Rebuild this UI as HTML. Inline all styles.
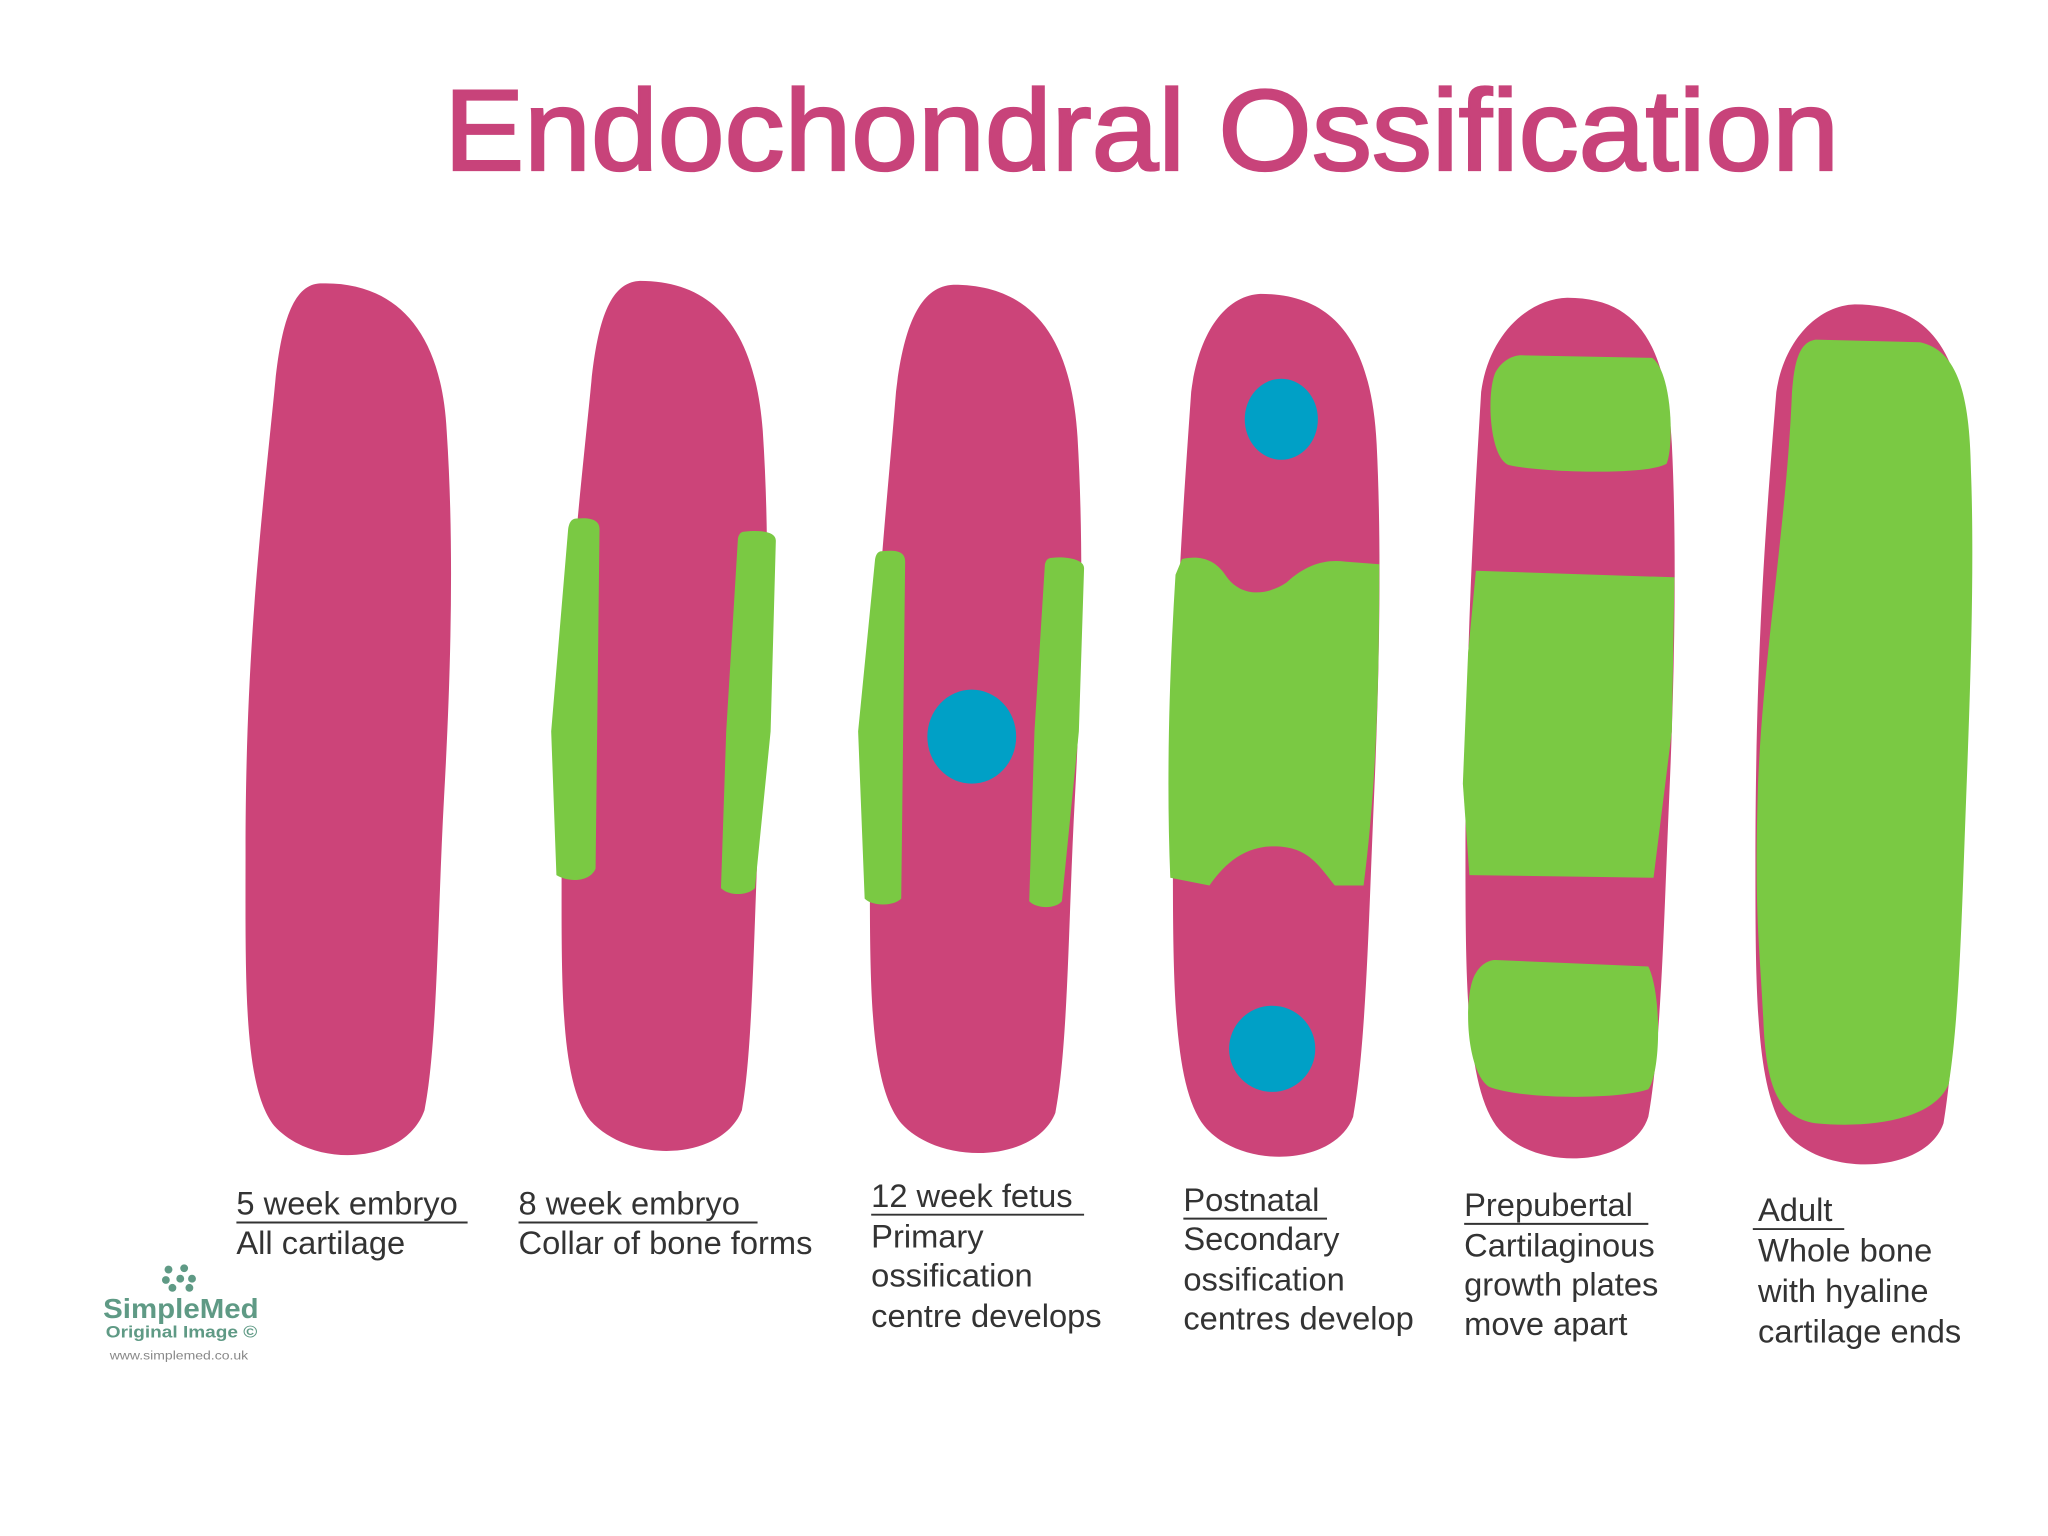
<!DOCTYPE html>
<html><head><meta charset="utf-8"><style>
html,body{margin:0;padding:0;background:#fff;}
svg{display:block;}
text{font-family:"Liberation Sans",sans-serif;}
</style></head><body>
<svg width="2048" height="1536" viewBox="0 0 1568 1176" xmlns="http://www.w3.org/2000/svg">
<rect width="1568" height="1176" fill="#fff"/>
<text x="340" y="130" font-size="88" fill="#c8437a" stroke="#c8437a" stroke-width="1.8" textLength="1068" lengthAdjust="spacingAndGlyphs">Endochondral Ossification</text>

<g fill="#cc4479">
<path d="M245 217 C300 215 338 250 342 330 C348 420 345 520 340 610 C335 700 335 800 325 850 C310 892 240 895 210 862 C186 832 188 750 188 650 C188 500 200 400 210 300 C215 245 225 218 245 217 Z"/>
<path d="M490 215 C545 215 578 250 584 330 C590 420 587 520 582 610 C577 700 577 800 568 850 C553 888 483 892 452 858 C428 828 430 750 430 650 C430 500 442 400 452 300 C457 245 467 216 490 215 Z"/>
<path d="M730 218 C788 218 820 255 825 335 C830 420 828 520 823 610 C818 700 818 800 808 852 C793 890 720 893 690 860 C665 830 666 750 666 650 C666 500 678 400 686 300 C692 248 705 219 730 218 Z"/>
<path d="M965 225 C1020 225 1050 260 1054 340 C1058 420 1056 520 1052 610 C1048 700 1046 800 1036 855 C1022 893 950 896 922 862 C898 832 898 750 898 650 C898 500 905 400 912 300 C918 252 940 226 965 225 Z"/>
<path d="M1200 228 C1255 228 1276 265 1280 340 C1284 420 1282 520 1278 610 C1274 700 1272 800 1262 855 C1250 893 1178 898 1148 865 C1122 835 1122 750 1122 650 C1122 500 1128 400 1134 300 C1140 256 1170 229 1200 228 Z"/>
<path d="M1420 233 C1478 233 1502 270 1506 345 C1510 420 1508 520 1504 610 C1500 700 1498 800 1488 860 C1475 898 1400 902 1370 870 C1344 840 1344 760 1344 660 C1344 500 1352 400 1360 300 C1366 260 1392 234 1420 233 Z"/>
</g>

<g fill="#7ac943">
<path d="M442 397 C452 396 459 398 459 405 L456 665 C452 675 436 676 426 670 L422 560 L435 405 C436 399 438 397 442 397 Z"/>
<path d="M570 407 C580 406 594 406 594 414 L590 560 L578 680 C572 686 558 686 552 680 L556 560 L565 412 C566 408 568 407 570 407 Z"/>
<path d="M676 422 C686 421 693 422 693 430 L690 688 C684 694 668 694 662 688 L657 560 L670 428 C671 423 673 422 676 422 Z"/>
<path d="M806 427 C816 426 830 428 830 435 L826 560 L813 690 C808 696 794 696 788 690 L792 560 L800 432 C801 428 803 427 806 427 Z"/>
<path d="M905 428 C918 425 930 428 938 440 C950 458 970 456 985 446 C1000 432 1015 428 1030 430 L1056 432 C1056 520 1054 600 1044 678 L1022 678 C1008 660 1000 648 975 648 C950 648 935 665 926 678 L896 672 C893 600 895 520 900 440 Z"/>
<path d="M1165 272 L1265 274 C1280 285 1282 340 1276 355 C1262 364 1180 362 1155 356 C1140 350 1138 300 1145 285 C1150 276 1158 272 1165 272 Z"/>
<path d="M1130 437 L1282 442 L1280 560 L1266 672 L1125 670 L1120 600 L1124 500 Z"/>
<path d="M1145 735 L1262 740 C1272 760 1272 820 1262 834 C1240 842 1165 842 1140 832 C1122 820 1120 760 1130 745 C1134 738 1140 735 1145 735 Z"/>
<path d="M1390 260 L1470 262 C1498 268 1508 300 1509 360 C1512 440 1508 540 1505 620 C1502 700 1500 780 1492 830 C1480 858 1430 864 1390 860 C1360 855 1352 830 1350 780 C1347 720 1343 700 1346 600 C1350 500 1368 400 1372 300 C1374 275 1378 262 1390 260 Z"/>
</g>

<g fill="#00a0c6">
<ellipse cx="744" cy="564" rx="34" ry="36"/>
<ellipse cx="981" cy="321" rx="28" ry="31"/>
<ellipse cx="974" cy="803" rx="33" ry="33"/>
</g>

<g font-size="25" fill="#333">
<text x="181" y="930">5 week embryo</text>
<line x1="181" y1="936" x2="358" y2="936" stroke="#333" stroke-width="1.5"/>
<text x="181" y="960">All cartilage</text>

<text x="397" y="930">8 week embryo</text>
<line x1="397" y1="936" x2="580" y2="936" stroke="#333" stroke-width="1.5"/>
<text x="397" y="960">Collar of bone forms</text>

<text x="667" y="924">12 week fetus</text>
<line x1="667" y1="930" x2="830" y2="930" stroke="#333" stroke-width="1.5"/>
<text x="667" y="955">Primary</text>
<text x="667" y="985">ossification</text>
<text x="667" y="1016">centre develops</text>

<text x="906" y="927">Postnatal</text>
<line x1="906" y1="933" x2="1016" y2="933" stroke="#333" stroke-width="1.5"/>
<text x="906" y="957">Secondary</text>
<text x="906" y="988">ossification</text>
<text x="906" y="1018">centres develop</text>

<text x="1121" y="931">Prepubertal</text>
<line x1="1121" y1="937" x2="1262" y2="937" stroke="#333" stroke-width="1.5"/>
<text x="1121" y="962">Cartilaginous</text>
<text x="1121" y="992">growth plates</text>
<text x="1121" y="1022">move apart</text>

<text x="1346" y="935">Adult</text>
<line x1="1342" y1="941" x2="1412" y2="941" stroke="#333" stroke-width="1.5"/>
<text x="1346" y="966">Whole bone</text>
<text x="1346" y="997">with hyaline</text>
<text x="1346" y="1028">cartilage ends</text>
</g>

<g fill="#5f9a85">
<circle cx="129" cy="972" r="3"/><circle cx="141" cy="971" r="3"/><circle cx="127" cy="980" r="3"/><circle cx="138" cy="979" r="3"/><circle cx="147" cy="979" r="3"/><circle cx="132" cy="986" r="3"/><circle cx="145" cy="986" r="3"/>
<text x="79" y="1009" font-size="21" font-weight="bold" font-family="DejaVu Sans, sans-serif" textLength="119" lengthAdjust="spacingAndGlyphs">SimpleMed</text>
<text x="81" y="1024" font-size="12.5" font-weight="bold" font-family="DejaVu Sans, sans-serif" textLength="116" lengthAdjust="spacingAndGlyphs">Original Image ©</text>
</g>
<text x="84" y="1041" font-size="9" fill="#888" font-family="DejaVu Sans, sans-serif" textLength="106" lengthAdjust="spacingAndGlyphs">www.simplemed.co.uk</text>
</svg>
</body></html>
